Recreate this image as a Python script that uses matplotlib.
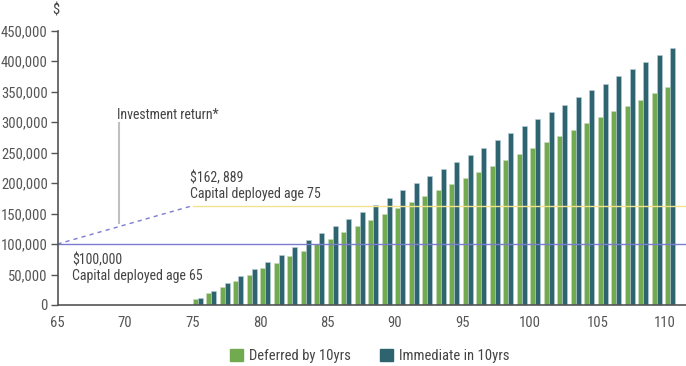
import matplotlib
matplotlib.use("Agg")
import matplotlib.pyplot as plt
from matplotlib.patches import Patch
import numpy as np
from matplotlib import font_manager

names = {f.name for f in font_manager.fontManager.ttflist}
fam = [n for n in ["Liberation Sans Narrow", "Roboto Condensed", "Open Sans", "DejaVu Sans"] if n in names]
plt.rcParams['font.family'] = fam

years = list(range(75, 111))
deferred = [9.8, 19.7, 30, 39, 49.7, 60, 69, 80, 89, 99.5, 109, 119, 129, 139, 149, 159,
            169, 179, 188.5, 198, 208, 218, 228, 237.7, 248, 258, 268, 277.5, 287, 298,
            307.7, 317.5, 327, 337, 347, 357]
immediate = [11.5, 23.5, 35.5, 47, 59, 70, 82, 94.5, 106, 117.5, 129, 141, 153, 164, 176, 188,
             199.5, 211, 222.5, 234, 246, 258, 270, 281.4, 293, 305, 316, 328, 340.5, 352,
             363, 375, 387, 399, 410, 422]
deferred = [v * 1000 for v in deferred]
immediate = [v * 1000 for v in immediate]

capital65 = 100000
capital75 = 162889
xticks = [65, 70, 75, 80, 85, 90, 95, 100, 105, 110]
yticks = list(range(0, 450001, 50000))

green = '#72aa4f'
teal = '#2d6470'
grey = '#555555'

fig = plt.figure(figsize=(6.86, 3.66), dpi=100)
ax = fig.add_axes([57.5/686, 61/366, (686-57.5)/686, (305-30.7)/366])

w = 0.37
x = np.array(years, dtype=float)
ax.bar(x, deferred, width=w, align='edge', color=green, edgecolor='#c9dcc0', linewidth=0.4)
ax.bar(x + w, immediate, width=w, align='edge', color=teal, edgecolor='#b9cfd6', linewidth=0.4)

ax.plot([65, 111.5], [capital65, capital65], color='#7b7bd0', lw=1.0, zorder=1)
ax.plot([75, 111.5], [capital75, capital75], color='#f2e28c', lw=1.0, zorder=1)
ax.plot([65, 75], [capital65, capital75], color='#7b7bd0', lw=1.0, ls=(0, (3, 3)))
ax.plot([69.56, 69.56], [135000, 298000], color='#c0c0c0', lw=1.5)

ax.set_xlim(65, 111.55)
ax.set_ylim(0, 450000)
ax.set_xticks(xticks)
ax.set_yticks(yticks)
ax.set_yticklabels([f"{v:,}" for v in yticks])
ax.tick_params(axis='x', length=0, pad=8, labelsize=10.5, colors=grey)
ax.tick_params(axis='y', length=5, width=1, pad=2, labelsize=10.5, colors=grey)
for s in ['top', 'right']:
    ax.spines[s].set_visible(False)
for s in ['left', 'bottom']:
    ax.spines[s].set_color('#555555')
    ax.spines[s].set_linewidth(1.2)

tc = '#444444'
fig.text(56/686, 1 - 10/366, '$', ha='center', va='center', fontsize=10.5, color=tc)
ax.text(69.4, 300000, 'Investment return*', fontsize=10, color=tc, va='bottom')
ax.text(74.8, 170000, '$162, 889\nCapital deployed age 75', fontsize=10, color=tc, va='bottom', linespacing=1.15)
ax.text(66.1, 85000, '$100,000\nCapital deployed age 65', fontsize=10, color=tc, va='top', linespacing=1.15)

handles = [Patch(color=green, label='Deferred by 10yrs'), Patch(color=teal, label='Immediate in 10yrs')]
fig.legend(handles=handles, loc='center', bbox_to_anchor=(370/686, 1 - 356/366), ncol=2, frameon=False,
           fontsize=10.5, handlelength=0.9, handleheight=0.9, handletextpad=0.4, columnspacing=2.0,
           labelcolor=tc)

fig.savefig('out.png', dpi=100)
